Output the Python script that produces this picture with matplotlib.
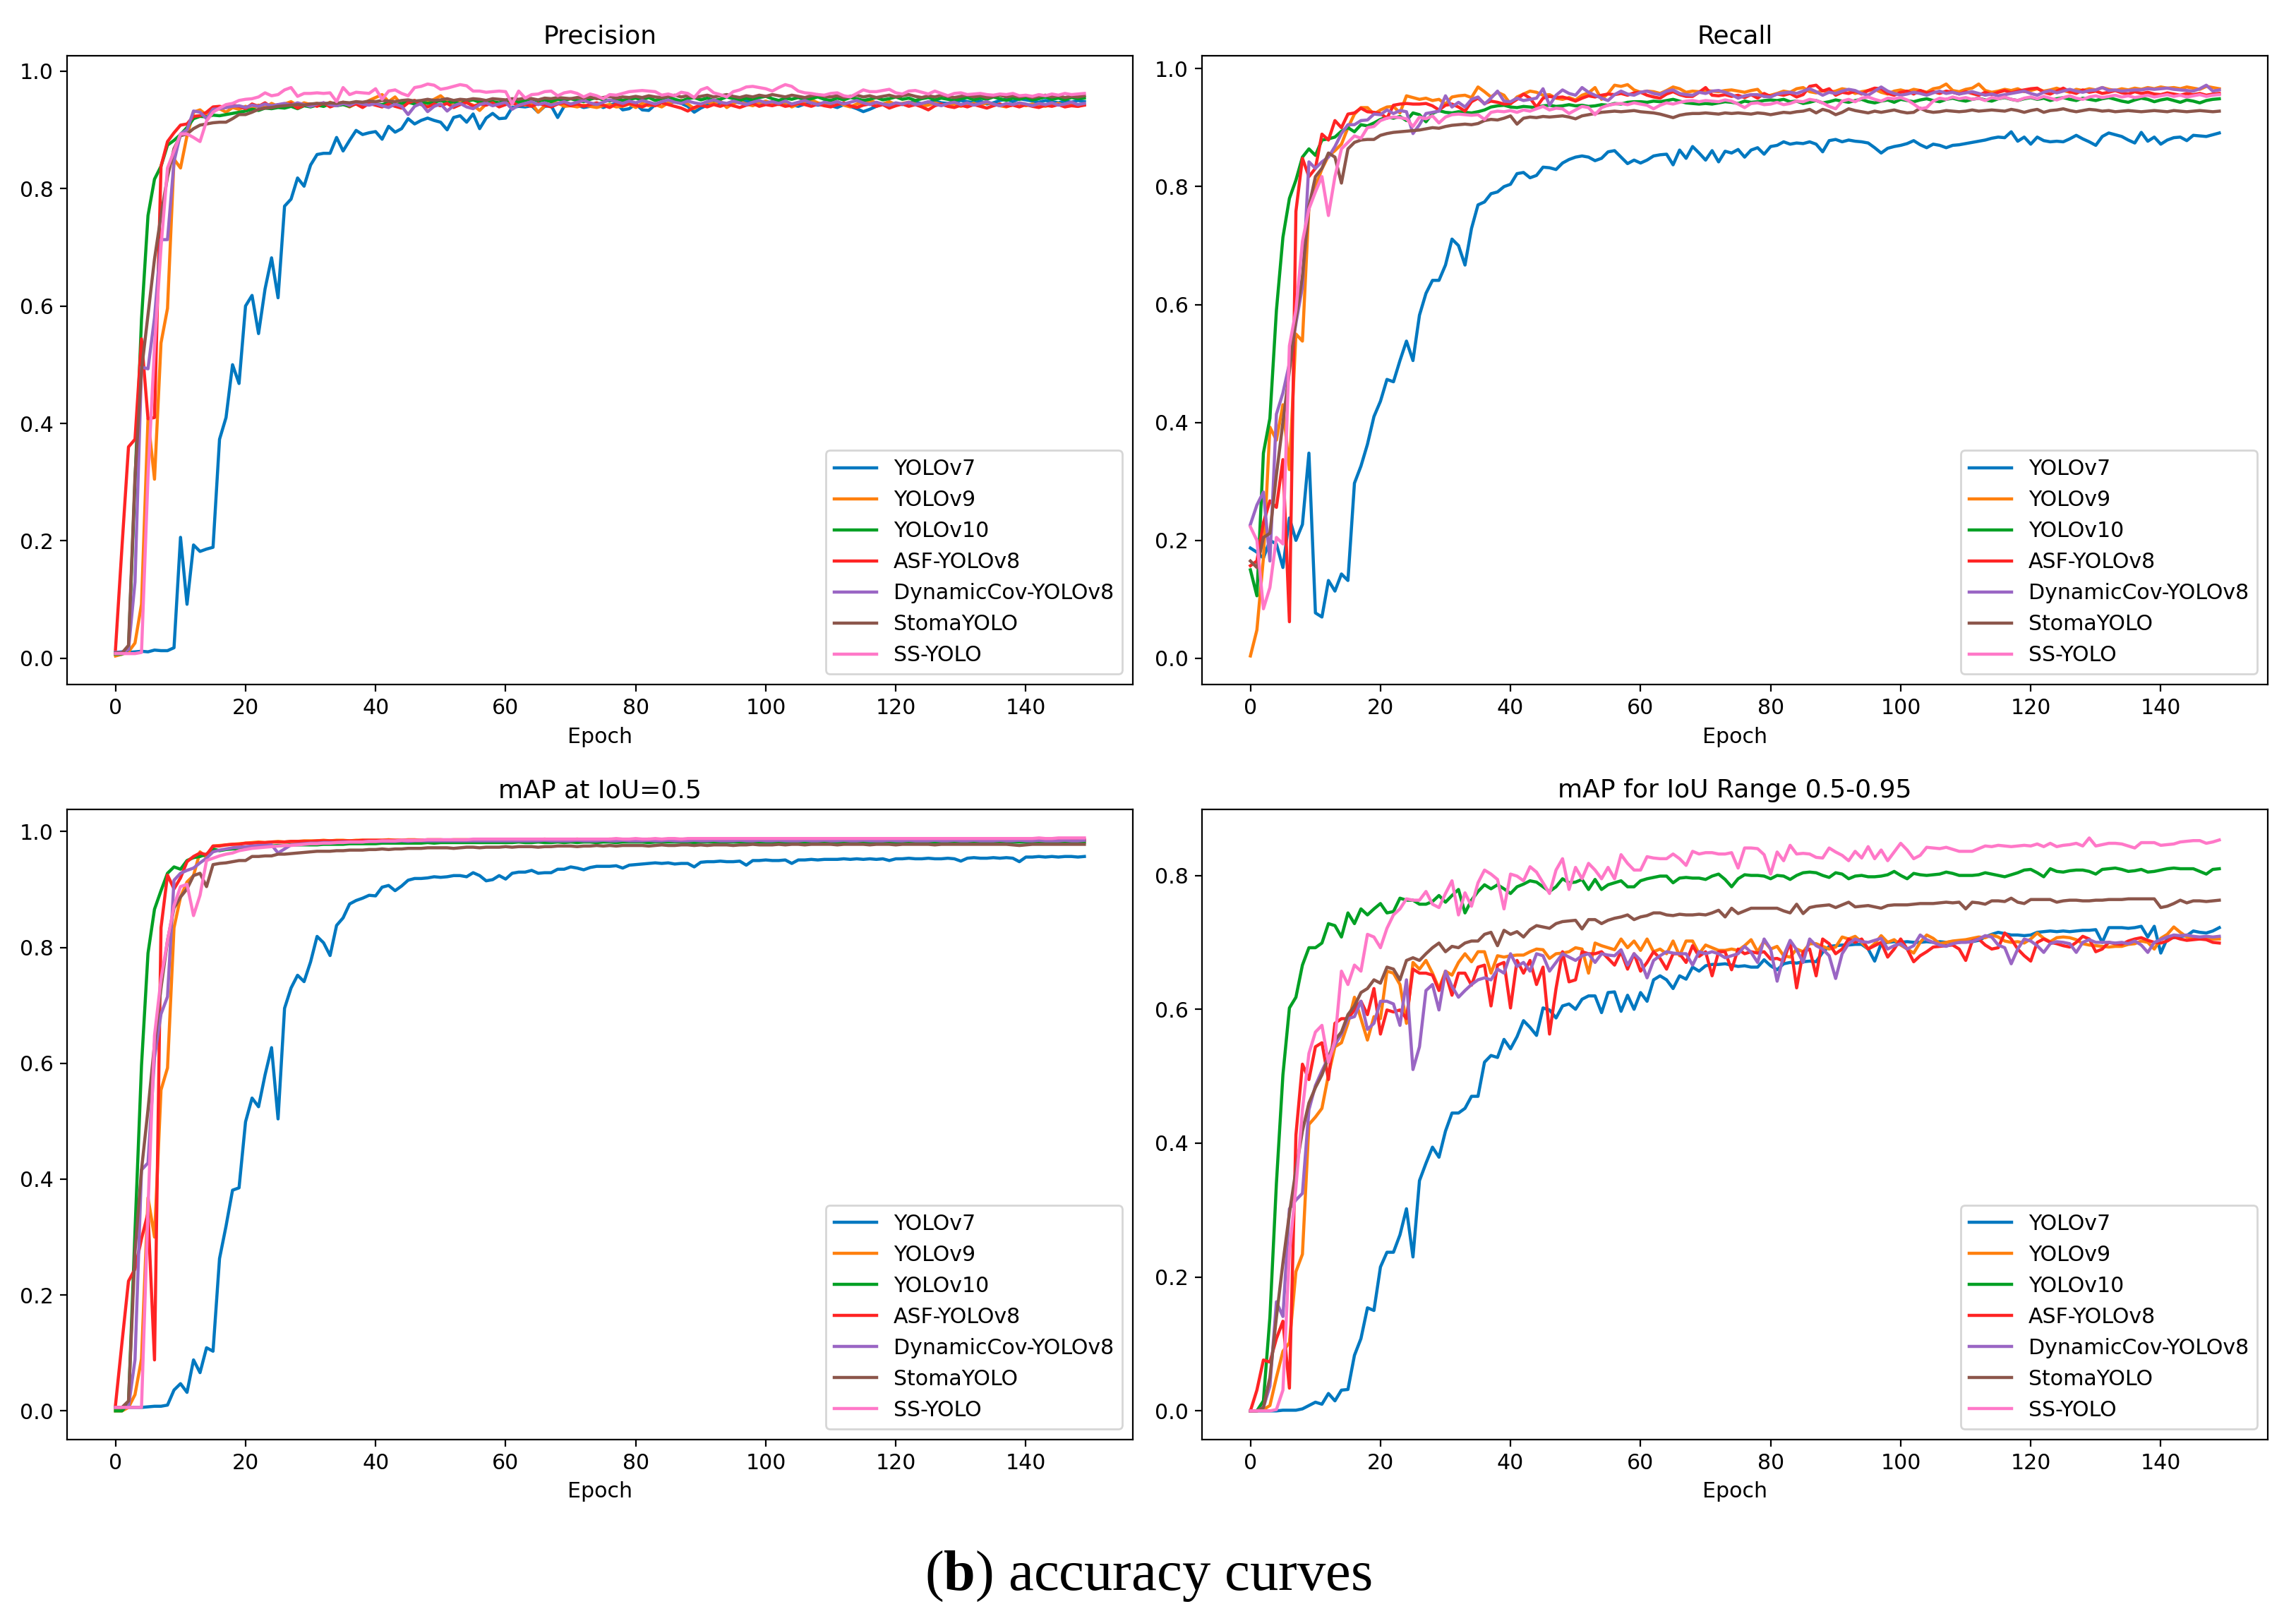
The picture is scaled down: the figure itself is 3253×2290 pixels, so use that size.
import matplotlib
matplotlib.use('Agg')
import matplotlib.pyplot as plt
import numpy as np

# model names and line colours
models = ['YOLOv7', 'YOLOv9', 'YOLOv10', 'ASF-YOLOv8', 'DynamicCov-YOLOv8', 'StomaYOLO', 'SS-YOLO']
colors = ['#0078c0', '#ff800e', '#00a024', '#ff2424', '#9a66c4', '#8c564b', '#ff78c8']

# ---------------- Precision ----------------
prec_v7 = [
    0.010, 0.011, 0.010, 0.011, 0.012, 0.011, 0.014, 0.013, 0.013, 0.018,
    0.206, 0.092, 0.193, 0.182, 0.186, 0.189, 0.373, 0.410, 0.500, 0.468,
    0.600, 0.618, 0.553, 0.629, 0.682, 0.614, 0.770, 0.782, 0.818, 0.804,
    0.840, 0.858, 0.860, 0.860, 0.887, 0.864, 0.882, 0.899, 0.892, 0.895,
    0.897, 0.884, 0.906, 0.896, 0.902, 0.919, 0.910, 0.916, 0.920, 0.916,
    0.913, 0.900, 0.921, 0.924, 0.913, 0.927, 0.902, 0.920, 0.928, 0.919,
    0.920, 0.938, 0.940, 0.939, 0.941, 0.930, 0.940, 0.941, 0.921, 0.940,
    0.944, 0.942, 0.938, 0.940, 0.944, 0.938, 0.942, 0.945, 0.934, 0.936,
    0.944, 0.934, 0.933, 0.943, 0.946, 0.944, 0.948, 0.945, 0.940, 0.930,
    0.937, 0.942, 0.945, 0.946, 0.944, 0.948, 0.946, 0.949, 0.947, 0.945,
    0.944, 0.946, 0.948, 0.945, 0.943, 0.940, 0.944, 0.946, 0.942, 0.944,
    0.941, 0.938, 0.943, 0.940, 0.936, 0.931, 0.935, 0.940, 0.944, 0.942,
    0.945, 0.943, 0.946, 0.948, 0.944, 0.947, 0.949, 0.946, 0.945, 0.948,
    0.950, 0.948, 0.946, 0.949, 0.944, 0.946, 0.950, 0.952, 0.948, 0.953,
    0.951, 0.949, 0.947, 0.950, 0.948, 0.946, 0.949, 0.947, 0.950, 0.948,
]
prec_v9 = [
    0.004, 0.007, 0.011, 0.026, 0.092, 0.408, 0.305, 0.537, 0.596, 0.850,
    0.835, 0.890, 0.930, 0.934, 0.925, 0.932, 0.936, 0.930, 0.938, 0.935,
    0.940, 0.936, 0.942, 0.938, 0.945, 0.940, 0.944, 0.948, 0.941, 0.946,
    0.943, 0.945, 0.940, 0.947, 0.942, 0.944, 0.939, 0.945, 0.943, 0.950,
    0.955, 0.960, 0.948, 0.956, 0.942, 0.946, 0.950, 0.944, 0.947, 0.952,
    0.958, 0.948, 0.945, 0.950, 0.946, 0.942, 0.933, 0.944, 0.947, 0.943,
    0.946, 0.944, 0.948, 0.942, 0.945, 0.930, 0.941, 0.944, 0.946, 0.940,
    0.941, 0.939, 0.942, 0.940, 0.938, 0.941, 0.943, 0.939, 0.940, 0.944,
    0.938, 0.945, 0.941, 0.943, 0.939, 0.946, 0.948, 0.950, 0.944, 0.936,
    0.943, 0.947, 0.945, 0.949, 0.938, 0.945, 0.948, 0.944, 0.941, 0.946,
    0.949, 0.945, 0.943, 0.947, 0.939, 0.944, 0.948, 0.951, 0.946, 0.943,
    0.945, 0.948, 0.942, 0.939, 0.944, 0.947, 0.950, 0.946, 0.944, 0.948,
    0.943, 0.945, 0.947, 0.944, 0.940, 0.942, 0.946, 0.943, 0.941, 0.944,
    0.940, 0.943, 0.945, 0.942, 0.946, 0.944, 0.941, 0.939, 0.943, 0.945,
    0.941, 0.944, 0.942, 0.940, 0.943, 0.945, 0.941, 0.942, 0.940, 0.943,
]
prec_v10 = [
    0.007, 0.007, 0.015, 0.300, 0.577, 0.754, 0.816, 0.838, 0.874, 0.882,
    0.892, 0.904, 0.919, 0.923, 0.922, 0.925, 0.924, 0.926, 0.928, 0.930,
    0.932, 0.935, 0.933, 0.937, 0.936, 0.938, 0.937, 0.940, 0.936, 0.941,
    0.939, 0.942, 0.940, 0.944, 0.941, 0.943, 0.940, 0.945, 0.942, 0.946,
    0.944, 0.943, 0.946, 0.942, 0.945, 0.947, 0.944, 0.948, 0.945, 0.947,
    0.950, 0.946, 0.948, 0.944, 0.949, 0.951, 0.947, 0.950, 0.948, 0.946,
    0.949, 0.952, 0.947, 0.950, 0.953, 0.949, 0.951, 0.948, 0.952, 0.950,
    0.953, 0.950, 0.948, 0.952, 0.955, 0.951, 0.949, 0.953, 0.950, 0.952,
    0.954, 0.951, 0.955, 0.950, 0.953, 0.956, 0.952, 0.949, 0.953, 0.955,
    0.951, 0.954, 0.950, 0.952, 0.956, 0.953, 0.950, 0.954, 0.951, 0.955,
    0.957, 0.953, 0.950, 0.954, 0.952, 0.955, 0.951, 0.953, 0.956, 0.952,
    0.950, 0.954, 0.951, 0.955, 0.953, 0.950, 0.952, 0.955, 0.951, 0.953,
    0.956, 0.952, 0.954, 0.950, 0.953, 0.955, 0.951, 0.954, 0.952, 0.950,
    0.953, 0.955, 0.951, 0.954, 0.952, 0.956, 0.953, 0.950, 0.954, 0.952,
    0.955, 0.951, 0.953, 0.956, 0.952, 0.954, 0.951, 0.955, 0.953, 0.954,
]
prec_asf = [
    0.015, 0.190, 0.360, 0.373, 0.544, 0.408, 0.410, 0.838, 0.880, 0.895,
    0.908, 0.910, 0.923, 0.924, 0.930, 0.939, 0.940, 0.938, 0.942, 0.940,
    0.936, 0.944, 0.940, 0.946, 0.938, 0.943, 0.941, 0.945, 0.937, 0.942,
    0.944, 0.940, 0.946, 0.939, 0.943, 0.947, 0.941, 0.944, 0.938, 0.945,
    0.942, 0.939, 0.944, 0.940, 0.937, 0.946, 0.950, 0.943, 0.939, 0.944,
    0.941, 0.945, 0.938, 0.943, 0.947, 0.940, 0.944, 0.942, 0.946, 0.939,
    0.943, 0.947, 0.941, 0.944, 0.940, 0.945, 0.942, 0.939, 0.944, 0.946,
    0.941, 0.944, 0.940, 0.943, 0.946, 0.942, 0.938, 0.944, 0.941, 0.945,
    0.942, 0.939, 0.944, 0.941, 0.946, 0.943, 0.940, 0.937, 0.932, 0.938,
    0.942, 0.939, 0.943, 0.940, 0.944, 0.941, 0.938, 0.942, 0.945, 0.940,
    0.943, 0.941, 0.944, 0.940, 0.942, 0.945, 0.943, 0.940, 0.944, 0.941,
    0.939, 0.943, 0.946, 0.941, 0.938, 0.942, 0.944, 0.940, 0.943, 0.937,
    0.941, 0.944, 0.940, 0.943, 0.939, 0.934, 0.941, 0.944, 0.940, 0.938,
    0.942, 0.939, 0.943, 0.940, 0.937, 0.941, 0.944, 0.940, 0.942, 0.939,
    0.943, 0.940, 0.938, 0.942, 0.940, 0.943, 0.939, 0.941, 0.940, 0.942,
]
prec_dyn = [
    0.010, 0.010, 0.015, 0.130, 0.496, 0.493, 0.580, 0.713, 0.713, 0.846,
    0.893, 0.900, 0.932, 0.930, 0.919, 0.935, 0.936, 0.938, 0.940, 0.941,
    0.938, 0.942, 0.940, 0.944, 0.941, 0.943, 0.945, 0.942, 0.946, 0.943,
    0.940, 0.944, 0.946, 0.943, 0.941, 0.945, 0.942, 0.947, 0.944, 0.942,
    0.945, 0.941, 0.938, 0.944, 0.940, 0.926, 0.940, 0.945, 0.931, 0.940,
    0.944, 0.932, 0.941, 0.945, 0.939, 0.936, 0.943, 0.946, 0.941, 0.944,
    0.947, 0.935, 0.942, 0.945, 0.948, 0.943, 0.946, 0.942, 0.945, 0.948,
    0.944, 0.947, 0.950, 0.946, 0.943, 0.947, 0.951, 0.948, 0.945, 0.949,
    0.946, 0.950, 0.947, 0.944, 0.948, 0.951, 0.947, 0.945, 0.949, 0.946,
    0.944, 0.948, 0.951, 0.947, 0.945, 0.949, 0.946, 0.943, 0.947, 0.950,
    0.946, 0.948, 0.945, 0.949, 0.944, 0.947, 0.950, 0.946, 0.943, 0.947,
    0.945, 0.948, 0.944, 0.947, 0.950, 0.946, 0.943, 0.947, 0.944, 0.942,
    0.946, 0.944, 0.947, 0.943, 0.945, 0.948, 0.944, 0.941, 0.945, 0.947,
    0.943, 0.946, 0.942, 0.945, 0.948, 0.944, 0.941, 0.945, 0.943, 0.946,
    0.944, 0.941, 0.945, 0.943, 0.946, 0.942, 0.944, 0.947, 0.943, 0.945,
]
prec_stoma = [
    0.009, 0.009, 0.022, 0.310, 0.490, 0.585, 0.680, 0.754, 0.820, 0.868,
    0.890, 0.893, 0.902, 0.908, 0.910, 0.912, 0.913, 0.913, 0.919, 0.926,
    0.926, 0.930, 0.935, 0.937, 0.938, 0.940, 0.941, 0.942, 0.943, 0.942,
    0.944, 0.945, 0.944, 0.946, 0.945, 0.947, 0.946, 0.948, 0.947, 0.949,
    0.948, 0.950, 0.949, 0.948, 0.950, 0.951, 0.949, 0.950, 0.952, 0.950,
    0.951, 0.953, 0.950, 0.952, 0.951, 0.953, 0.952, 0.950, 0.953, 0.952,
    0.951, 0.953, 0.952, 0.954, 0.953, 0.951, 0.954, 0.953, 0.955, 0.954,
    0.953, 0.955, 0.954, 0.956, 0.953, 0.955, 0.957, 0.954, 0.956, 0.955,
    0.957, 0.955, 0.958, 0.956, 0.955, 0.957, 0.959, 0.956, 0.958, 0.955,
    0.957, 0.959, 0.956, 0.958, 0.960, 0.957, 0.955, 0.958, 0.956, 0.959,
    0.957, 0.960, 0.958, 0.956, 0.959, 0.957, 0.955, 0.958, 0.960, 0.957,
    0.956, 0.958, 0.955, 0.957, 0.959, 0.956, 0.958, 0.955, 0.957, 0.959,
    0.956, 0.958, 0.960, 0.957, 0.955, 0.958, 0.956, 0.959, 0.957, 0.955,
    0.957, 0.959, 0.956, 0.958, 0.955, 0.957, 0.959, 0.956, 0.958, 0.956,
    0.958, 0.955, 0.957, 0.959, 0.956, 0.958, 0.955, 0.957, 0.956, 0.958,
]
prec_ss = [
    0.008, 0.008, 0.008, 0.008, 0.010, 0.310, 0.530, 0.700, 0.835, 0.864,
    0.893, 0.893, 0.887, 0.880, 0.915, 0.930, 0.937, 0.943, 0.945, 0.950,
    0.952, 0.953, 0.956, 0.963, 0.958, 0.960, 0.968, 0.972, 0.957, 0.962,
    0.962, 0.963, 0.962, 0.963, 0.948, 0.972, 0.960, 0.964, 0.963, 0.962,
    0.970, 0.952, 0.966, 0.968, 0.962, 0.958, 0.972, 0.974, 0.978, 0.976,
    0.969, 0.971, 0.974, 0.977, 0.975, 0.966, 0.966, 0.964, 0.965, 0.966,
    0.965, 0.944, 0.966, 0.954, 0.960, 0.961, 0.965, 0.966, 0.958, 0.963,
    0.965, 0.962, 0.956, 0.961, 0.958, 0.953, 0.960, 0.959, 0.962, 0.965,
    0.966, 0.967, 0.966, 0.965, 0.959, 0.961, 0.958, 0.964, 0.962, 0.955,
    0.968, 0.972, 0.963, 0.960, 0.956, 0.965, 0.968, 0.973, 0.974, 0.972,
    0.970, 0.966, 0.972, 0.977, 0.974, 0.966, 0.963, 0.962, 0.960, 0.959,
    0.962, 0.963, 0.958, 0.956, 0.962, 0.968, 0.965, 0.965, 0.967, 0.969,
    0.963, 0.961, 0.966, 0.967, 0.964, 0.961, 0.966, 0.962, 0.958, 0.962,
    0.963, 0.960, 0.961, 0.962, 0.960, 0.959, 0.961, 0.960, 0.962, 0.958,
    0.959, 0.957, 0.960, 0.958, 0.961, 0.959, 0.962, 0.960, 0.961, 0.962,
]

# ---------------- Recall ----------------
rec_v7 = [
    0.187, 0.180, 0.170, 0.200, 0.194, 0.154, 0.238, 0.200, 0.227, 0.348,
    0.077, 0.070, 0.132, 0.114, 0.143, 0.132, 0.297, 0.326, 0.363, 0.410,
    0.436, 0.473, 0.469, 0.505, 0.538, 0.505, 0.582, 0.619, 0.641, 0.641,
    0.667, 0.711, 0.700, 0.667, 0.729, 0.769, 0.774, 0.788, 0.791, 0.800,
    0.804, 0.822, 0.824, 0.815, 0.819, 0.833, 0.832, 0.829, 0.840, 0.846,
    0.850, 0.852, 0.850, 0.844, 0.848, 0.859, 0.861, 0.850, 0.839, 0.845,
    0.840, 0.845, 0.852, 0.854, 0.855, 0.837, 0.862, 0.848, 0.868, 0.857,
    0.845, 0.861, 0.842, 0.860, 0.857, 0.863, 0.850, 0.862, 0.866, 0.855,
    0.868, 0.870, 0.876, 0.872, 0.874, 0.873, 0.876, 0.872, 0.859, 0.878,
    0.880, 0.876, 0.879, 0.877, 0.876, 0.874, 0.866, 0.857, 0.865, 0.868,
    0.870, 0.873, 0.878, 0.871, 0.866, 0.872, 0.870, 0.866, 0.870, 0.871,
    0.873, 0.875, 0.877, 0.879, 0.882, 0.884, 0.883, 0.893, 0.877, 0.884,
    0.872, 0.884, 0.878, 0.876, 0.877, 0.876, 0.881, 0.887, 0.881, 0.876,
    0.870, 0.885, 0.891, 0.888, 0.885, 0.879, 0.874, 0.892, 0.877, 0.884,
    0.872, 0.879, 0.883, 0.884, 0.878, 0.887, 0.886, 0.885, 0.888, 0.891,
]
rec_v9 = [
    0.004, 0.048, 0.170, 0.392, 0.370, 0.430, 0.320, 0.550, 0.538, 0.766,
    0.800, 0.830, 0.852, 0.861, 0.872, 0.900, 0.923, 0.934, 0.934, 0.923,
    0.930, 0.935, 0.936, 0.925, 0.954, 0.951, 0.948, 0.950, 0.946, 0.948,
    0.940, 0.952, 0.954, 0.955, 0.951, 0.969, 0.961, 0.952, 0.960, 0.955,
    0.940, 0.952, 0.957, 0.962, 0.960, 0.955, 0.956, 0.950, 0.948, 0.951,
    0.947, 0.955, 0.959, 0.968, 0.948, 0.958, 0.972, 0.970, 0.973, 0.964,
    0.960, 0.962, 0.961, 0.958, 0.963, 0.969, 0.966, 0.960, 0.962, 0.961,
    0.963, 0.962, 0.961, 0.963, 0.964, 0.962, 0.960, 0.963, 0.965, 0.953,
    0.955, 0.958, 0.962, 0.960, 0.966, 0.968, 0.961, 0.959, 0.963, 0.960,
    0.962, 0.966, 0.964, 0.958, 0.961, 0.963, 0.965, 0.960, 0.957, 0.962,
    0.964, 0.961, 0.965, 0.963, 0.960, 0.966, 0.968, 0.974, 0.963, 0.961,
    0.965, 0.967, 0.974, 0.963, 0.960, 0.962, 0.965, 0.963, 0.966, 0.961,
    0.963, 0.966, 0.962, 0.964, 0.967, 0.963, 0.960, 0.965, 0.963, 0.966,
    0.964, 0.968, 0.965, 0.963, 0.966, 0.964, 0.967, 0.965, 0.968, 0.966,
    0.969, 0.967, 0.968, 0.966, 0.969, 0.967, 0.965, 0.970, 0.968, 0.966,
]
rec_v10 = [
    0.150, 0.106, 0.348, 0.407, 0.590, 0.714, 0.780, 0.811, 0.850, 0.864,
    0.853, 0.879, 0.881, 0.884, 0.894, 0.900, 0.893, 0.905, 0.903, 0.908,
    0.914, 0.918, 0.916, 0.919, 0.912, 0.925, 0.922, 0.910, 0.924, 0.929,
    0.926, 0.925, 0.927, 0.926, 0.925, 0.927, 0.930, 0.935, 0.937, 0.938,
    0.935, 0.934, 0.936, 0.935, 0.934, 0.937, 0.938, 0.936, 0.937, 0.939,
    0.937, 0.938, 0.936, 0.937, 0.939, 0.938, 0.941, 0.940, 0.943, 0.944,
    0.944, 0.943, 0.945, 0.944, 0.946, 0.948, 0.945, 0.942, 0.941, 0.940,
    0.941, 0.940, 0.942, 0.944, 0.943, 0.941, 0.945, 0.943, 0.944, 0.946,
    0.947, 0.946, 0.948, 0.944, 0.945, 0.941, 0.943, 0.946, 0.942, 0.944,
    0.947, 0.945, 0.943, 0.946, 0.948, 0.944, 0.942, 0.945, 0.947, 0.943,
    0.948, 0.946, 0.944, 0.947, 0.949, 0.946, 0.944, 0.948, 0.950, 0.947,
    0.945, 0.948, 0.950, 0.947, 0.945, 0.949, 0.951, 0.948, 0.946, 0.949,
    0.951, 0.948, 0.950, 0.946, 0.949, 0.951, 0.948, 0.946, 0.950, 0.948,
    0.946, 0.949, 0.951, 0.948, 0.945, 0.943, 0.947, 0.950, 0.948, 0.944,
    0.947, 0.949, 0.946, 0.943, 0.947, 0.945, 0.942, 0.946, 0.948, 0.949,
]
rec_asf = [
    0.157, 0.165, 0.230, 0.267, 0.256, 0.337, 0.062, 0.758, 0.848, 0.817,
    0.831, 0.889, 0.879, 0.912, 0.900, 0.923, 0.925, 0.933, 0.927, 0.926,
    0.924, 0.916, 0.938, 0.940, 0.941, 0.940, 0.940, 0.941, 0.937, 0.930,
    0.938, 0.940, 0.935, 0.928, 0.944, 0.950, 0.941, 0.945, 0.943, 0.940,
    0.941, 0.948, 0.957, 0.950, 0.935, 0.950, 0.953, 0.951, 0.952, 0.949,
    0.945, 0.950, 0.954, 0.952, 0.955, 0.957, 0.956, 0.958, 0.955, 0.959,
    0.960, 0.955, 0.952, 0.950, 0.957, 0.961, 0.956, 0.953, 0.953, 0.960,
    0.968, 0.955, 0.954, 0.956, 0.953, 0.955, 0.951, 0.956, 0.950, 0.958,
    0.953, 0.957, 0.955, 0.958, 0.952, 0.956, 0.970, 0.972, 0.962, 0.966,
    0.955, 0.960, 0.958, 0.962, 0.957, 0.963, 0.967, 0.966, 0.958, 0.955,
    0.960, 0.962, 0.957, 0.963, 0.959, 0.961, 0.958, 0.962, 0.960, 0.957,
    0.961, 0.958, 0.955, 0.960, 0.956, 0.960, 0.963, 0.959, 0.962, 0.964,
    0.966, 0.967, 0.960, 0.957, 0.962, 0.967, 0.961, 0.958, 0.964, 0.960,
    0.962, 0.958, 0.960, 0.963, 0.959, 0.957, 0.961, 0.958, 0.960, 0.957,
    0.956, 0.959, 0.957, 0.955, 0.958, 0.956, 0.958, 0.955, 0.957, 0.958,
]
rec_dyn = [
    0.227, 0.260, 0.282, 0.165, 0.414, 0.450, 0.500, 0.568, 0.630, 0.842,
    0.831, 0.842, 0.850, 0.868, 0.890, 0.905, 0.905, 0.912, 0.913, 0.923,
    0.922, 0.930, 0.924, 0.929, 0.927, 0.890, 0.905, 0.924, 0.926, 0.928,
    0.954, 0.935, 0.943, 0.935, 0.948, 0.952, 0.940, 0.950, 0.962, 0.945,
    0.944, 0.950, 0.946, 0.948, 0.950, 0.966, 0.938, 0.955, 0.964, 0.958,
    0.955, 0.968, 0.960, 0.955, 0.950, 0.946, 0.956, 0.962, 0.957, 0.955,
    0.960, 0.962, 0.958, 0.956, 0.962, 0.964, 0.958, 0.956, 0.955, 0.960,
    0.958, 0.962, 0.963, 0.960, 0.956, 0.950, 0.954, 0.956, 0.956, 0.953,
    0.952, 0.957, 0.959, 0.960, 0.958, 0.962, 0.966, 0.961, 0.955, 0.960,
    0.958, 0.962, 0.965, 0.963, 0.958, 0.955, 0.962, 0.969, 0.962, 0.958,
    0.955, 0.957, 0.960, 0.958, 0.955, 0.959, 0.962, 0.958, 0.960, 0.957,
    0.959, 0.961, 0.958, 0.955, 0.957, 0.954, 0.956, 0.958, 0.960, 0.962,
    0.958, 0.955, 0.960, 0.963, 0.959, 0.962, 0.965, 0.962, 0.960, 0.963,
    0.964, 0.968, 0.963, 0.964, 0.962, 0.963, 0.964, 0.964, 0.966, 0.965,
    0.966, 0.967, 0.965, 0.964, 0.963, 0.962, 0.966, 0.972, 0.962, 0.964,
]
rec_stoma = [
    0.165, 0.154, 0.205, 0.212, 0.311, 0.400, 0.487, 0.575, 0.648, 0.766,
    0.817, 0.831, 0.857, 0.850, 0.806, 0.864, 0.875, 0.879, 0.880, 0.880,
    0.887, 0.890, 0.892, 0.893, 0.894, 0.895, 0.896, 0.898, 0.900, 0.899,
    0.902, 0.904, 0.905, 0.906, 0.905, 0.907, 0.912, 0.914, 0.913, 0.916,
    0.920, 0.906, 0.916, 0.918, 0.917, 0.919, 0.918, 0.919, 0.920, 0.918,
    0.915, 0.920, 0.922, 0.924, 0.926, 0.927, 0.928, 0.927, 0.928, 0.929,
    0.927, 0.926, 0.925, 0.923, 0.920, 0.917, 0.921, 0.923, 0.924, 0.924,
    0.925, 0.924, 0.923, 0.925, 0.924, 0.925, 0.924, 0.923, 0.925, 0.924,
    0.922, 0.924, 0.926, 0.925, 0.927, 0.928, 0.931, 0.925, 0.931, 0.928,
    0.922, 0.926, 0.932, 0.929, 0.927, 0.925, 0.928, 0.926, 0.928, 0.930,
    0.927, 0.925, 0.926, 0.933, 0.928, 0.926, 0.927, 0.929, 0.928, 0.927,
    0.928, 0.930, 0.928, 0.929, 0.930, 0.929, 0.928, 0.931, 0.929, 0.926,
    0.929, 0.931, 0.926, 0.929, 0.930, 0.932, 0.929, 0.927, 0.929, 0.931,
    0.930, 0.928, 0.929, 0.927, 0.928, 0.929, 0.928, 0.927, 0.928, 0.929,
    0.928, 0.927, 0.929, 0.928, 0.927, 0.928, 0.929, 0.928, 0.927, 0.928,
]
rec_ss = [
    0.223, 0.200, 0.084, 0.120, 0.205, 0.194, 0.530, 0.590, 0.707, 0.762,
    0.791, 0.817, 0.751, 0.817, 0.864, 0.875, 0.886, 0.882, 0.900, 0.902,
    0.912, 0.916, 0.918, 0.917, 0.915, 0.902, 0.918, 0.915, 0.920, 0.908,
    0.918, 0.922, 0.923, 0.922, 0.921, 0.922, 0.914, 0.926, 0.928, 0.927,
    0.929, 0.926, 0.930, 0.928, 0.932, 0.936, 0.930, 0.933, 0.932, 0.924,
    0.930, 0.936, 0.934, 0.922, 0.934, 0.938, 0.940, 0.941, 0.939, 0.942,
    0.940, 0.938, 0.932, 0.938, 0.942, 0.940, 0.943, 0.945, 0.946, 0.944,
    0.946, 0.945, 0.944, 0.947, 0.945, 0.940, 0.934, 0.941, 0.942, 0.939,
    0.940, 0.943, 0.939, 0.941, 0.945, 0.944, 0.948, 0.946, 0.942, 0.936,
    0.932, 0.945, 0.948, 0.944, 0.950, 0.952, 0.948, 0.945, 0.950, 0.949,
    0.951, 0.947, 0.940, 0.932, 0.934, 0.945, 0.950, 0.948, 0.952, 0.949,
    0.951, 0.948, 0.950, 0.946, 0.951, 0.949, 0.952, 0.948, 0.946, 0.950,
    0.952, 0.949, 0.953, 0.950, 0.947, 0.951, 0.954, 0.950, 0.948, 0.952,
    0.954, 0.951, 0.953, 0.955, 0.952, 0.954, 0.951, 0.953, 0.955, 0.952,
    0.954, 0.956, 0.953, 0.955, 0.952, 0.954, 0.956, 0.953, 0.955, 0.956,
]

# ---------------- mAP at IoU=0.5 ----------------
map50_v7 = [
    0.006, 0.006, 0.006, 0.006, 0.006, 0.007, 0.008, 0.008, 0.010, 0.036,
    0.047, 0.032, 0.088, 0.066, 0.109, 0.103, 0.263, 0.319, 0.381, 0.385,
    0.499, 0.540, 0.525, 0.580, 0.627, 0.504, 0.695, 0.730, 0.752, 0.741,
    0.775, 0.819, 0.808, 0.786, 0.838, 0.851, 0.875, 0.881, 0.885, 0.890,
    0.889, 0.904, 0.907, 0.898, 0.906, 0.916, 0.919, 0.919, 0.920, 0.922,
    0.921, 0.922, 0.924, 0.924, 0.922, 0.929, 0.924, 0.915, 0.917, 0.924,
    0.918, 0.928, 0.930, 0.930, 0.933, 0.928, 0.929, 0.929, 0.935, 0.935,
    0.939, 0.937, 0.934, 0.938, 0.940, 0.940, 0.940, 0.941, 0.937, 0.942,
    0.943, 0.944, 0.945, 0.946, 0.945, 0.946, 0.944, 0.945, 0.945, 0.939,
    0.947, 0.948, 0.948, 0.949, 0.948, 0.948, 0.949, 0.942, 0.950, 0.950,
    0.951, 0.950, 0.950, 0.951, 0.945, 0.951, 0.951, 0.952, 0.951, 0.952,
    0.952, 0.952, 0.953, 0.952, 0.953, 0.952, 0.953, 0.952, 0.953, 0.950,
    0.953, 0.953, 0.954, 0.953, 0.953, 0.954, 0.953, 0.953, 0.954, 0.953,
    0.949, 0.954, 0.955, 0.954, 0.954, 0.955, 0.954, 0.955, 0.954, 0.948,
    0.956, 0.956, 0.957, 0.956, 0.957, 0.956, 0.957, 0.957, 0.956, 0.957,
]
map50_v9 = [
    0.000, 0.000, 0.006, 0.028, 0.090, 0.368, 0.300, 0.554, 0.592, 0.834,
    0.887, 0.913, 0.924, 0.965, 0.955, 0.975, 0.976, 0.977, 0.978, 0.979,
    0.980, 0.981, 0.982, 0.981, 0.982, 0.983, 0.982, 0.983, 0.983, 0.984,
    0.984, 0.984, 0.985, 0.984, 0.985, 0.985, 0.984, 0.985, 0.985, 0.985,
    0.985, 0.985, 0.986, 0.985, 0.985, 0.986, 0.986, 0.985, 0.986, 0.986,
    0.986, 0.985, 0.986, 0.986, 0.986, 0.985, 0.986, 0.986, 0.986, 0.986,
    0.986, 0.986, 0.985, 0.986, 0.986, 0.986, 0.987, 0.986, 0.986, 0.986,
    0.986, 0.987, 0.986, 0.986, 0.986, 0.986, 0.987, 0.986, 0.986, 0.986,
    0.986, 0.986, 0.987, 0.986, 0.986, 0.986, 0.986, 0.987, 0.986, 0.986,
    0.986, 0.986, 0.986, 0.987, 0.986, 0.986, 0.986, 0.986, 0.986, 0.986,
    0.986, 0.987, 0.986, 0.986, 0.986, 0.986, 0.986, 0.987, 0.986, 0.986,
    0.986, 0.986, 0.986, 0.986, 0.987, 0.986, 0.986, 0.986, 0.986, 0.986,
    0.986, 0.986, 0.987, 0.986, 0.986, 0.986, 0.986, 0.986, 0.986, 0.986,
    0.986, 0.986, 0.986, 0.986, 0.986, 0.986, 0.986, 0.985, 0.984, 0.983,
    0.985, 0.986, 0.986, 0.986, 0.986, 0.986, 0.986, 0.986, 0.986, 0.986,
]
map50_v10 = [
    0.000, 0.000, 0.013, 0.310, 0.596, 0.790, 0.866, 0.898, 0.928, 0.939,
    0.935, 0.950, 0.955, 0.957, 0.961, 0.970, 0.967, 0.969, 0.970, 0.970,
    0.972, 0.973, 0.974, 0.975, 0.975, 0.976, 0.976, 0.977, 0.977, 0.977,
    0.977, 0.977, 0.978, 0.978, 0.978, 0.978, 0.979, 0.979, 0.979, 0.979,
    0.979, 0.980, 0.980, 0.980, 0.980, 0.980, 0.980, 0.980, 0.981, 0.980,
    0.981, 0.981, 0.981, 0.981, 0.981, 0.981, 0.981, 0.981, 0.981, 0.981,
    0.981, 0.981, 0.982, 0.981, 0.981, 0.982, 0.981, 0.981, 0.982, 0.981,
    0.982, 0.981, 0.982, 0.982, 0.981, 0.982, 0.982, 0.981, 0.982, 0.982,
    0.982, 0.982, 0.981, 0.982, 0.982, 0.982, 0.982, 0.982, 0.982, 0.981,
    0.982, 0.982, 0.982, 0.982, 0.982, 0.982, 0.982, 0.982, 0.982, 0.982,
    0.982, 0.982, 0.982, 0.982, 0.982, 0.982, 0.982, 0.982, 0.982, 0.982,
    0.982, 0.982, 0.982, 0.982, 0.982, 0.982, 0.982, 0.982, 0.982, 0.982,
    0.982, 0.982, 0.982, 0.982, 0.982, 0.982, 0.982, 0.982, 0.982, 0.982,
    0.982, 0.982, 0.982, 0.982, 0.982, 0.982, 0.982, 0.982, 0.982, 0.982,
    0.982, 0.982, 0.982, 0.982, 0.982, 0.982, 0.982, 0.982, 0.982, 0.982,
]
map50_asf = [
    0.010, 0.118, 0.224, 0.245, 0.297, 0.342, 0.088, 0.834, 0.925, 0.901,
    0.920, 0.948, 0.957, 0.963, 0.960, 0.975, 0.975, 0.977, 0.978, 0.978,
    0.980, 0.980, 0.981, 0.981, 0.982, 0.982, 0.982, 0.983, 0.983, 0.983,
    0.983, 0.984, 0.984, 0.984, 0.984, 0.984, 0.984, 0.984, 0.985, 0.985,
    0.985, 0.985, 0.985, 0.985, 0.985, 0.985, 0.985, 0.985, 0.985, 0.985,
    0.985, 0.985, 0.985, 0.985, 0.985, 0.985, 0.985, 0.985, 0.985, 0.985,
    0.985, 0.985, 0.985, 0.985, 0.985, 0.985, 0.985, 0.985, 0.985, 0.985,
    0.985, 0.985, 0.985, 0.985, 0.985, 0.985, 0.985, 0.985, 0.985, 0.985,
    0.985, 0.985, 0.985, 0.985, 0.985, 0.985, 0.985, 0.985, 0.985, 0.985,
    0.985, 0.985, 0.985, 0.985, 0.985, 0.985, 0.985, 0.985, 0.985, 0.985,
    0.985, 0.985, 0.985, 0.985, 0.985, 0.985, 0.985, 0.985, 0.985, 0.985,
    0.985, 0.985, 0.985, 0.985, 0.985, 0.985, 0.985, 0.985, 0.985, 0.985,
    0.985, 0.985, 0.985, 0.985, 0.985, 0.985, 0.985, 0.985, 0.985, 0.985,
    0.985, 0.985, 0.985, 0.985, 0.985, 0.985, 0.985, 0.985, 0.985, 0.985,
    0.985, 0.985, 0.985, 0.985, 0.985, 0.985, 0.985, 0.985, 0.985, 0.985,
]
map50_dyn = [
    0.006, 0.006, 0.007, 0.088, 0.416, 0.428, 0.610, 0.685, 0.715, 0.916,
    0.928, 0.933, 0.937, 0.946, 0.954, 0.965, 0.968, 0.970, 0.972, 0.973,
    0.974, 0.975, 0.976, 0.976, 0.977, 0.963, 0.970, 0.977, 0.978, 0.979,
    0.980, 0.980, 0.981, 0.981, 0.981, 0.982, 0.982, 0.982, 0.982, 0.983,
    0.983, 0.983, 0.983, 0.983, 0.984, 0.983, 0.984, 0.984, 0.984, 0.984,
    0.984, 0.984, 0.984, 0.984, 0.984, 0.984, 0.984, 0.984, 0.984, 0.984,
    0.984, 0.984, 0.984, 0.984, 0.984, 0.984, 0.985, 0.984, 0.984, 0.984,
    0.984, 0.985, 0.984, 0.984, 0.984, 0.985, 0.984, 0.984, 0.985, 0.984,
    0.984, 0.984, 0.985, 0.984, 0.984, 0.985, 0.984, 0.984, 0.984, 0.985,
    0.984, 0.984, 0.985, 0.984, 0.984, 0.984, 0.985, 0.984, 0.984, 0.985,
    0.984, 0.984, 0.985, 0.984, 0.984, 0.984, 0.985, 0.984, 0.984, 0.985,
    0.984, 0.984, 0.985, 0.984, 0.984, 0.985, 0.984, 0.984, 0.984, 0.985,
    0.984, 0.984, 0.985, 0.984, 0.984, 0.984, 0.985, 0.984, 0.984, 0.985,
    0.984, 0.984, 0.985, 0.984, 0.984, 0.984, 0.985, 0.984, 0.984, 0.985,
    0.984, 0.984, 0.985, 0.984, 0.984, 0.984, 0.985, 0.984, 0.984, 0.985,
]
map50_stoma = [
    0.006, 0.006, 0.017, 0.275, 0.416, 0.520, 0.633, 0.730, 0.812, 0.868,
    0.887, 0.901, 0.924, 0.928, 0.905, 0.943, 0.945, 0.946, 0.948, 0.950,
    0.950, 0.957, 0.957, 0.958, 0.958, 0.961, 0.961, 0.962, 0.963, 0.964,
    0.965, 0.966, 0.966, 0.966, 0.967, 0.967, 0.968, 0.968, 0.968, 0.969,
    0.969, 0.970, 0.969, 0.970, 0.970, 0.971, 0.971, 0.971, 0.972, 0.972,
    0.972, 0.972, 0.971, 0.972, 0.973, 0.973, 0.972, 0.973, 0.973, 0.973,
    0.974, 0.973, 0.974, 0.974, 0.974, 0.973, 0.974, 0.974, 0.975, 0.975,
    0.975, 0.974, 0.975, 0.975, 0.976, 0.975, 0.976, 0.975, 0.976, 0.976,
    0.976, 0.976, 0.975, 0.976, 0.977, 0.976, 0.976, 0.977, 0.977, 0.976,
    0.977, 0.976, 0.977, 0.977, 0.977, 0.976, 0.977, 0.977, 0.978, 0.977,
    0.977, 0.977, 0.978, 0.977, 0.978, 0.978, 0.977, 0.978, 0.978, 0.978,
    0.978, 0.977, 0.978, 0.978, 0.978, 0.978, 0.977, 0.978, 0.978, 0.978,
    0.977, 0.978, 0.978, 0.978, 0.978, 0.978, 0.977, 0.978, 0.978, 0.978,
    0.978, 0.978, 0.978, 0.978, 0.978, 0.978, 0.978, 0.978, 0.977, 0.976,
    0.977, 0.978, 0.978, 0.978, 0.978, 0.978, 0.978, 0.978, 0.978, 0.978,
]
map50_ss = [
    0.006, 0.006, 0.006, 0.006, 0.006, 0.350, 0.648, 0.745, 0.812, 0.872,
    0.905, 0.909, 0.855, 0.890, 0.950, 0.954, 0.958, 0.961, 0.963, 0.967,
    0.969, 0.971, 0.972, 0.973, 0.974, 0.975, 0.976, 0.976, 0.977, 0.978,
    0.979, 0.979, 0.980, 0.980, 0.981, 0.981, 0.982, 0.982, 0.982, 0.983,
    0.983, 0.984, 0.984, 0.984, 0.985, 0.985, 0.985, 0.985, 0.986, 0.986,
    0.986, 0.986, 0.986, 0.986, 0.986, 0.987, 0.987, 0.987, 0.987, 0.987,
    0.987, 0.987, 0.987, 0.987, 0.987, 0.987, 0.987, 0.987, 0.987, 0.987,
    0.987, 0.987, 0.987, 0.987, 0.987, 0.987, 0.987, 0.988, 0.987, 0.987,
    0.988, 0.987, 0.987, 0.988, 0.987, 0.988, 0.988, 0.987, 0.988, 0.988,
    0.988, 0.988, 0.988, 0.988, 0.988, 0.988, 0.988, 0.988, 0.988, 0.988,
    0.988, 0.988, 0.988, 0.988, 0.988, 0.988, 0.988, 0.988, 0.988, 0.988,
    0.988, 0.988, 0.988, 0.988, 0.988, 0.988, 0.988, 0.988, 0.988, 0.988,
    0.988, 0.988, 0.988, 0.988, 0.988, 0.988, 0.988, 0.988, 0.988, 0.988,
    0.988, 0.988, 0.988, 0.988, 0.988, 0.988, 0.988, 0.988, 0.988, 0.988,
    0.988, 0.988, 0.989, 0.988, 0.988, 0.989, 0.989, 0.989, 0.989, 0.989,
]

# ---------------- mAP for IoU 0.5-0.95 ----------------
map5095_v7 = [
    0.000, 0.000, 0.000, 0.000, 0.000, 0.001, 0.001, 0.001, 0.003, 0.008,
    0.013, 0.010, 0.026, 0.015, 0.031, 0.032, 0.083, 0.108, 0.154, 0.150,
    0.215, 0.237, 0.237, 0.263, 0.302, 0.230, 0.344, 0.370, 0.394, 0.379,
    0.418, 0.445, 0.445, 0.452, 0.470, 0.470, 0.521, 0.531, 0.528, 0.555,
    0.541, 0.559, 0.583, 0.573, 0.561, 0.602, 0.599, 0.587, 0.605, 0.608,
    0.600, 0.615, 0.620, 0.620, 0.595, 0.625, 0.626, 0.597, 0.621, 0.600,
    0.625, 0.612, 0.644, 0.650, 0.644, 0.631, 0.650, 0.645, 0.663, 0.657,
    0.665, 0.667, 0.667, 0.668, 0.666, 0.664, 0.665, 0.663, 0.663, 0.674,
    0.665, 0.659, 0.668, 0.670, 0.669, 0.671, 0.672, 0.671, 0.685, 0.694,
    0.695, 0.696, 0.696, 0.697, 0.697, 0.690, 0.672, 0.698, 0.700, 0.701,
    0.700, 0.701, 0.700, 0.700, 0.701, 0.700, 0.701, 0.700, 0.701, 0.700,
    0.702, 0.701, 0.703, 0.708, 0.712, 0.715, 0.713, 0.711, 0.711, 0.710,
    0.711, 0.715, 0.716, 0.717, 0.716, 0.717, 0.716, 0.717, 0.718, 0.718,
    0.719, 0.700, 0.722, 0.722, 0.722, 0.721, 0.722, 0.724, 0.708, 0.724,
    0.684, 0.706, 0.707, 0.709, 0.710, 0.717, 0.715, 0.714, 0.717, 0.722,
]
map5095_v9 = [
    0.000, 0.000, 0.002, 0.008, 0.050, 0.089, 0.102, 0.208, 0.234, 0.428,
    0.439, 0.452, 0.502, 0.544, 0.550, 0.579, 0.618, 0.586, 0.554, 0.589,
    0.586, 0.657, 0.654, 0.637, 0.579, 0.670, 0.660, 0.673, 0.654, 0.631,
    0.657, 0.651, 0.670, 0.683, 0.671, 0.686, 0.686, 0.654, 0.680, 0.678,
    0.680, 0.681, 0.681, 0.686, 0.690, 0.689, 0.676, 0.683, 0.684, 0.686,
    0.692, 0.690, 0.654, 0.699, 0.695, 0.692, 0.689, 0.705, 0.692, 0.702,
    0.688, 0.705, 0.686, 0.690, 0.683, 0.702, 0.680, 0.702, 0.702, 0.683,
    0.696, 0.692, 0.688, 0.688, 0.690, 0.688, 0.695, 0.704, 0.686, 0.702,
    0.690, 0.694, 0.680, 0.678, 0.690, 0.686, 0.698, 0.698, 0.694, 0.690,
    0.693, 0.708, 0.705, 0.709, 0.700, 0.690, 0.698, 0.710, 0.700, 0.704,
    0.696, 0.690, 0.684, 0.700, 0.711, 0.706, 0.698, 0.700, 0.702, 0.703,
    0.704, 0.706, 0.708, 0.707, 0.711, 0.708, 0.702, 0.700, 0.701, 0.699,
    0.705, 0.714, 0.706, 0.701, 0.707, 0.708, 0.707, 0.704, 0.698, 0.696,
    0.695, 0.694, 0.693, 0.694, 0.694, 0.697, 0.698, 0.702, 0.700, 0.690,
    0.706, 0.712, 0.723, 0.715, 0.708, 0.706, 0.705, 0.706, 0.705, 0.705,
]
map5095_v10 = [
    0.000, 0.000, 0.015, 0.140, 0.340, 0.502, 0.602, 0.618, 0.666, 0.692,
    0.692, 0.699, 0.728, 0.725, 0.708, 0.744, 0.728, 0.750, 0.741, 0.750,
    0.758, 0.744, 0.746, 0.766, 0.763, 0.763, 0.757, 0.757, 0.761, 0.770,
    0.760, 0.770, 0.779, 0.744, 0.763, 0.776, 0.786, 0.780, 0.786, 0.780,
    0.773, 0.783, 0.787, 0.792, 0.790, 0.783, 0.776, 0.783, 0.795, 0.789,
    0.790, 0.794, 0.779, 0.794, 0.779, 0.786, 0.789, 0.792, 0.783, 0.783,
    0.792, 0.795, 0.797, 0.799, 0.799, 0.789, 0.796, 0.797, 0.796, 0.796,
    0.794, 0.799, 0.802, 0.794, 0.783, 0.795, 0.801, 0.800, 0.800, 0.799,
    0.795, 0.800, 0.799, 0.794, 0.800, 0.804, 0.805, 0.804, 0.800, 0.797,
    0.804, 0.802, 0.795, 0.799, 0.800, 0.798, 0.798, 0.799, 0.801, 0.806,
    0.800, 0.795, 0.803, 0.801, 0.800, 0.801, 0.802, 0.805, 0.803, 0.800,
    0.800, 0.800, 0.801, 0.804, 0.802, 0.800, 0.798, 0.801, 0.804, 0.808,
    0.809, 0.804, 0.798, 0.810, 0.806, 0.805, 0.807, 0.808, 0.808, 0.806,
    0.802, 0.809, 0.810, 0.811, 0.809, 0.806, 0.807, 0.809, 0.805, 0.806,
    0.808, 0.810, 0.811, 0.810, 0.810, 0.810, 0.806, 0.802, 0.809, 0.810,
]
map5095_asf = [
    0.000, 0.031, 0.076, 0.073, 0.108, 0.134, 0.034, 0.412, 0.518, 0.495,
    0.544, 0.550, 0.495, 0.579, 0.586, 0.586, 0.599, 0.612, 0.592, 0.631,
    0.563, 0.599, 0.596, 0.599, 0.586, 0.660, 0.654, 0.654, 0.651, 0.628,
    0.654, 0.621, 0.654, 0.654, 0.636, 0.663, 0.666, 0.605, 0.666, 0.670,
    0.602, 0.673, 0.654, 0.673, 0.637, 0.663, 0.563, 0.631, 0.686, 0.641,
    0.644, 0.686, 0.683, 0.683, 0.686, 0.676, 0.666, 0.686, 0.660, 0.683,
    0.657, 0.670, 0.686, 0.676, 0.660, 0.683, 0.683, 0.670, 0.695, 0.679,
    0.686, 0.650, 0.686, 0.686, 0.659, 0.690, 0.683, 0.686, 0.684, 0.686,
    0.675, 0.676, 0.672, 0.701, 0.632, 0.686, 0.690, 0.650, 0.705, 0.698,
    0.683, 0.690, 0.705, 0.700, 0.705, 0.690, 0.695, 0.700, 0.678, 0.690,
    0.705, 0.690, 0.671, 0.680, 0.686, 0.693, 0.694, 0.695, 0.696, 0.690,
    0.673, 0.702, 0.705, 0.696, 0.690, 0.692, 0.714, 0.705, 0.690, 0.680,
    0.672, 0.700, 0.705, 0.700, 0.698, 0.695, 0.693, 0.700, 0.709, 0.705,
    0.686, 0.690, 0.700, 0.698, 0.697, 0.702, 0.705, 0.707, 0.703, 0.700,
    0.699, 0.702, 0.708, 0.705, 0.703, 0.704, 0.705, 0.704, 0.700, 0.699,
]
map5095_dyn = [
    0.000, 0.000, 0.005, 0.037, 0.163, 0.141, 0.302, 0.315, 0.325, 0.450,
    0.486, 0.508, 0.528, 0.547, 0.563, 0.586, 0.589, 0.612, 0.570, 0.579,
    0.612, 0.612, 0.608, 0.576, 0.644, 0.510, 0.544, 0.628, 0.637, 0.599,
    0.657, 0.634, 0.618, 0.628, 0.637, 0.644, 0.647, 0.644, 0.660, 0.654,
    0.683, 0.664, 0.670, 0.657, 0.683, 0.680, 0.657, 0.670, 0.683, 0.678,
    0.673, 0.680, 0.683, 0.670, 0.683, 0.681, 0.680, 0.689, 0.666, 0.683,
    0.673, 0.647, 0.673, 0.680, 0.686, 0.684, 0.683, 0.683, 0.666, 0.686,
    0.683, 0.686, 0.683, 0.677, 0.680, 0.683, 0.694, 0.685, 0.670, 0.705,
    0.690, 0.642, 0.680, 0.703, 0.689, 0.670, 0.705, 0.695, 0.690, 0.680,
    0.646, 0.683, 0.698, 0.705, 0.701, 0.700, 0.703, 0.706, 0.690, 0.695,
    0.698, 0.690, 0.695, 0.711, 0.704, 0.700, 0.696, 0.694, 0.698, 0.700,
    0.700, 0.701, 0.705, 0.710, 0.708, 0.696, 0.692, 0.668, 0.690, 0.705,
    0.702, 0.695, 0.685, 0.698, 0.701, 0.700, 0.698, 0.685, 0.700, 0.704,
    0.700, 0.700, 0.700, 0.699, 0.700, 0.698, 0.702, 0.696, 0.685, 0.700,
    0.704, 0.708, 0.711, 0.710, 0.711, 0.709, 0.708, 0.709, 0.708, 0.709,
]
map5095_stoma = [
    0.000, 0.000, 0.005, 0.050, 0.140, 0.221, 0.295, 0.360, 0.418, 0.460,
    0.483, 0.502, 0.528, 0.554, 0.566, 0.592, 0.605, 0.625, 0.631, 0.644,
    0.639, 0.663, 0.660, 0.644, 0.673, 0.677, 0.673, 0.683, 0.692, 0.699,
    0.686, 0.694, 0.692, 0.699, 0.702, 0.702, 0.712, 0.715, 0.695, 0.718,
    0.712, 0.716, 0.708, 0.719, 0.725, 0.723, 0.721, 0.728, 0.731, 0.732,
    0.733, 0.720, 0.734, 0.734, 0.728, 0.733, 0.736, 0.738, 0.741, 0.734,
    0.738, 0.740, 0.744, 0.744, 0.741, 0.740, 0.742, 0.741, 0.741, 0.742,
    0.741, 0.744, 0.748, 0.738, 0.751, 0.743, 0.747, 0.751, 0.751, 0.751,
    0.751, 0.751, 0.747, 0.744, 0.757, 0.743, 0.752, 0.754, 0.755, 0.756,
    0.752, 0.756, 0.760, 0.753, 0.754, 0.755, 0.753, 0.751, 0.755, 0.756,
    0.756, 0.756, 0.757, 0.758, 0.758, 0.758, 0.759, 0.760, 0.759, 0.760,
    0.750, 0.760, 0.759, 0.757, 0.762, 0.762, 0.761, 0.766, 0.760, 0.758,
    0.764, 0.764, 0.764, 0.764, 0.760, 0.762, 0.763, 0.763, 0.762, 0.762,
    0.763, 0.763, 0.764, 0.764, 0.764, 0.765, 0.765, 0.765, 0.765, 0.765,
    0.752, 0.754, 0.758, 0.763, 0.759, 0.762, 0.762, 0.761, 0.762, 0.763,
]
map5095_ss = [
    0.000, 0.000, 0.000, 0.000, 0.002, 0.031, 0.237, 0.334, 0.450, 0.534,
    0.566, 0.576, 0.521, 0.553, 0.657, 0.637, 0.666, 0.657, 0.712, 0.708,
    0.692, 0.721, 0.741, 0.750, 0.765, 0.763, 0.763, 0.776, 0.757, 0.752,
    0.773, 0.792, 0.741, 0.774, 0.754, 0.789, 0.808, 0.802, 0.794, 0.750,
    0.802, 0.799, 0.792, 0.813, 0.805, 0.789, 0.773, 0.808, 0.825, 0.779,
    0.812, 0.795, 0.818, 0.808, 0.795, 0.812, 0.795, 0.831, 0.818, 0.808,
    0.808, 0.828, 0.826, 0.825, 0.825, 0.832, 0.825, 0.815, 0.836, 0.832,
    0.834, 0.834, 0.832, 0.832, 0.834, 0.811, 0.841, 0.841, 0.840, 0.831,
    0.802, 0.835, 0.822, 0.845, 0.832, 0.833, 0.832, 0.827, 0.826, 0.841,
    0.835, 0.830, 0.822, 0.836, 0.826, 0.843, 0.825, 0.838, 0.822, 0.835,
    0.848, 0.838, 0.825, 0.830, 0.842, 0.841, 0.840, 0.842, 0.839, 0.836,
    0.836, 0.836, 0.840, 0.844, 0.843, 0.845, 0.844, 0.843, 0.844, 0.845,
    0.844, 0.847, 0.843, 0.848, 0.843, 0.845, 0.846, 0.848, 0.844, 0.856,
    0.844, 0.846, 0.848, 0.848, 0.847, 0.844, 0.841, 0.849, 0.849, 0.849,
    0.845, 0.846, 0.847, 0.850, 0.851, 0.852, 0.852, 0.848, 0.850, 0.853,
]

panels = [
    ('Precision', [prec_v7, prec_v9, prec_v10, prec_asf, prec_dyn, prec_stoma, prec_ss]),
    ('Recall', [rec_v7, rec_v9, rec_v10, rec_asf, rec_dyn, rec_stoma, rec_ss]),
    ('mAP at IoU=0.5', [map50_v7, map50_v9, map50_v10, map50_asf, map50_dyn, map50_stoma, map50_ss]),
    ('mAP for IoU Range 0.5-0.95', [map5095_v7, map5095_v9, map5095_v10, map5095_asf,
                                    map5095_dyn, map5095_stoma, map5095_ss]),
]

plt.rcParams['font.size'] = 10.8
plt.rcParams['mathtext.fontset'] = 'custom'
plt.rcParams['mathtext.rm'] = 'Liberation Serif'
plt.rcParams['mathtext.bf'] = 'Liberation Serif:bold'

fig = plt.figure(figsize=(16.265, 11.45), dpi=200)

# axes boxes [left, bottom, width, height] in figure fractions
boxes = [
    [0.0292, 0.5764, 0.4642, 0.3893],
    [0.5235, 0.5764, 0.4642, 0.3893],
    [0.0292, 0.1092, 0.4642, 0.3900],
    [0.5235, 0.1092, 0.4642, 0.3900],
]

for box, (title, series) in zip(boxes, panels):
    ax = fig.add_axes(box)
    for name, col, vals in zip(models, colors, series):
        ax.plot(np.arange(len(vals)), vals, color=col, linewidth=1.6, label=name)
    ax.set_title(title, fontsize=13)
    ax.set_xlabel('Epoch', fontsize=10.8)
    ax.legend(loc='lower right', fontsize=10.8)

fig.text(0.5, 0.0245, r'($\mathbf{b}$) accuracy curves', ha='center', va='center',
         fontsize=29, family='Liberation Serif')

fig.savefig('out.png', dpi=200)
